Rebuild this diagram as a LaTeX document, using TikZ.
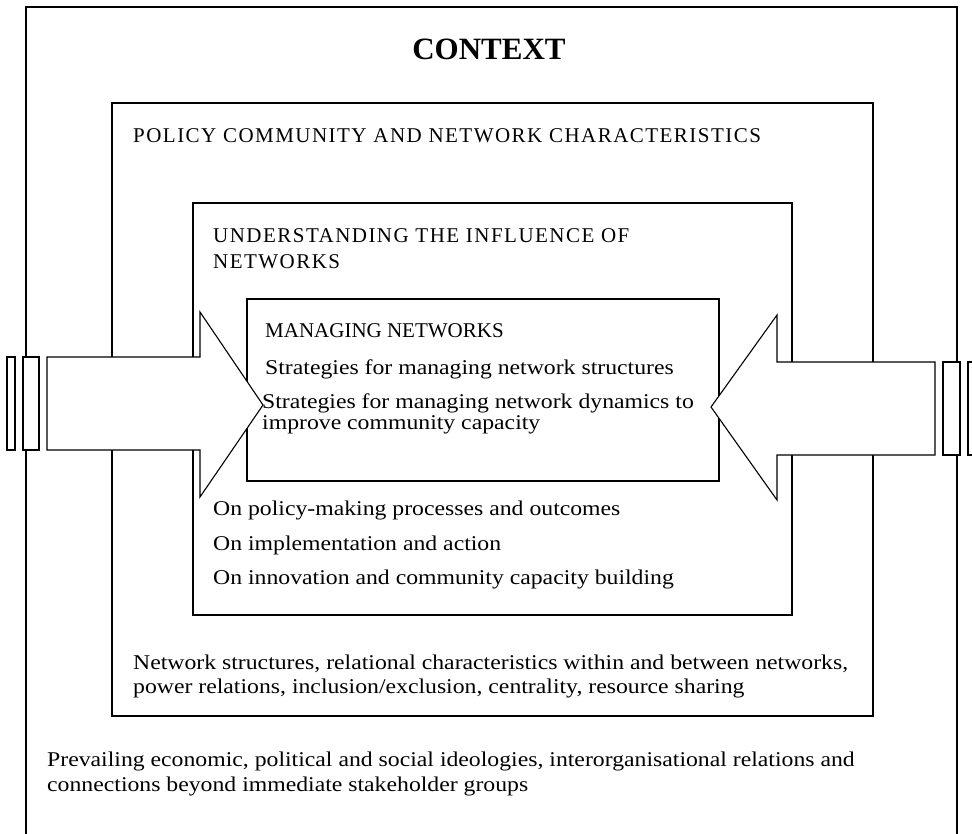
\documentclass[tikz,border=0pt]{standalone}
\usepackage{fontspec}
\setmainfont{Liberation Serif}
\newfontfamily\bodyf{Liberation Serif}[FakeStretch=1.13]
\newfontfamily\capsf{Liberation Serif}[LetterSpace=7.0]
\begin{document}
\begin{tikzpicture}[x=1pt, y=-1pt,
  frame/.style={draw=black, line width=1.1pt},
  bigarrow/.style={draw=black, fill=white, line width=1.1pt, line join=miter},
  bar/.style={draw=black, fill=white, line width=1.1pt},
  txt/.style={inner sep=0pt, anchor=base west, font=\bodyf\fontsize{21pt}{21pt}\selectfont},
  caps/.style={inner sep=0pt, anchor=base west, font=\capsf\fontsize{21pt}{21pt}\selectfont},
  title/.style={inner sep=0pt, anchor=base, font=\fontsize{31pt}{31pt}\selectfont\bfseries}]
\useasboundingbox (0,0) rectangle (972,833);
\clip (0,0) rectangle (972,833);

% nested frames: context, policy community, influence, management
\draw[frame] (26,845) -- (26,7) -- (957,7) -- (957,845);
\draw[frame] (112,103) rectangle (873,716);
\draw[frame] (193,203) rectangle (792,615);
\draw[frame] (247,299) rectangle (719,481);

% block arrows pushing in from both sides
\draw[bigarrow] (47,357) -- (200,357) -- (200,312) -- (263,405) -- (200,497)
  -- (200,450) -- (47,450) -- cycle;
\draw[bigarrow] (935,362) -- (777,362) -- (777,315) -- (711,407) -- (777,500)
  -- (777,455) -- (935,455) -- cycle;

% end bars behind the arrows
\draw[bar] (7,357) rectangle (15,450);
\draw[bar] (23,357) rectangle (39,450);
\draw[bar] (943,362) rectangle (960,455);
\draw[bar] (968,362) rectangle (980,455);

% labels
\node[title] (ctx) at (489,59) {CONTEXT};

\node[caps] (pol) at (133,142) {POLICY COMMUNITY AND NETWORK CHARACTERISTICS};
\node[txt] (pol1) at (133,669) {Network structures, relational characteristics within and between networks,};
\node[txt] (pol2) at (133,693) {power relations, inclusion/exclusion, centrality, resource sharing};

\node[caps] (und1) at (213,242) {UNDERSTANDING THE INFLUENCE OF};
\node[caps] (und2) at (213,268) {NETWORKS};
\node[txt] (on1) at (213,515) {On policy-making processes and outcomes};
\node[txt] (on2) at (213,550) {On implementation and action};
\node[txt] (on3) at (213,584) {On innovation and community capacity building};

\node[inner sep=0pt, anchor=base west, font=\fontsize{21pt}{21pt}\selectfont] (man) at (265,337) {MANAGING NETWORKS};
\node[txt] (man1) at (265,374) {Strategies for managing network structures};
\node[txt] (man2) at (262,408) {Strategies for managing network dynamics to};
\node[txt] (man3) at (262,429) {improve community capacity};

\node[txt] (ctx1) at (47,766) {Prevailing economic, political and social ideologies, interorganisational relations and};
\node[txt] (ctx2) at (47,791) {connections beyond immediate stakeholder groups};
\end{tikzpicture}
\end{document}
